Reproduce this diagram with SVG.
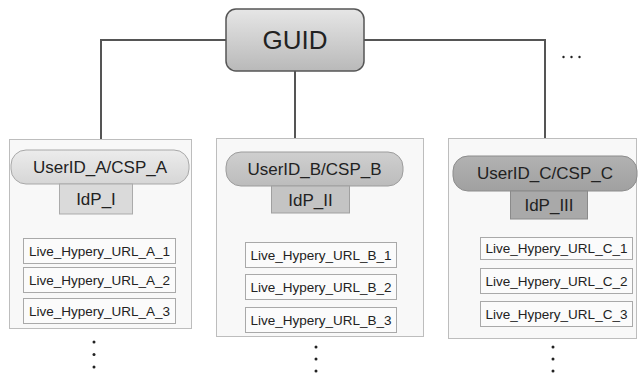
<svg xmlns="http://www.w3.org/2000/svg" width="638" height="373" viewBox="0 0 638 373">
<defs>
<linearGradient id="gGuid" x1="0" y1="0" x2="0" y2="1"><stop offset="0" stop-color="#e6e6e6"/><stop offset="1" stop-color="#b9b9b9"/></linearGradient>
<linearGradient id="gA" x1="0" y1="0" x2="0" y2="1"><stop offset="0" stop-color="#ececec"/><stop offset="1" stop-color="#d6d6d6"/></linearGradient>
<linearGradient id="gB" x1="0" y1="0" x2="0" y2="1"><stop offset="0" stop-color="#cfcfcf"/><stop offset="1" stop-color="#bcbcbc"/></linearGradient>
<linearGradient id="gC" x1="0" y1="0" x2="0" y2="1"><stop offset="0" stop-color="#b2b2b2"/><stop offset="1" stop-color="#a0a0a0"/></linearGradient>
</defs>
<style>
text{font-family:"Liberation Sans",Arial,sans-serif;fill:#222;text-anchor:middle;dominant-baseline:central}
.outer{fill:#f8f8f8;stroke:#bdbdbd;stroke-width:1}
.url{fill:#fbfbfb;stroke:#a9a9a9;stroke-width:1}
.urlt{font-size:13.5px}
.pt{font-size:17px}
.conn{fill:none;stroke:#555;stroke-width:2}
.dot{fill:#222}
</style>
<rect width="638" height="373" fill="#fff"/>
<g id="connectors">
<polyline class="conn" points="226,40 101,40 101,140"/>
<polyline class="conn" points="364,40 545,40 545,138"/>
<line class="conn" x1="295" y1="71" x2="295" y2="138"/>
</g>
<g id="guid">
<rect x="226" y="9" width="138" height="62" rx="10" fill="url(#gGuid)" stroke="#555" stroke-width="1.5"/>
<text x="295" y="40" style="font-size:26px">GUID</text>
</g>
<g id="ellipsis">
<circle class="dot" cx="563.5" cy="57" r="1.2"/><circle class="dot" cx="571.5" cy="57" r="1.2"/><circle class="dot" cx="579.5" cy="57" r="1.2"/>
</g>
<g id="groupA">
<rect class="outer" x="9.5" y="139.5" width="182" height="189"/>
<rect x="11" y="150" width="178" height="34" rx="15" fill="url(#gA)" stroke="#a8a8a8"/>
<text class="pt" x="100" y="167">UserID_A/CSP_A</text>
<rect x="59.5" y="184" width="73" height="30" fill="#dadada" stroke="#ababab"/>
<text class="pt" x="96" y="199">IdP_I</text>
<rect class="url" x="23.5" y="238.5" width="152" height="25"/>
<text class="urlt" x="99.5" y="251">Live_Hypery_URL_A_1</text>
<rect class="url" x="23.5" y="267.5" width="152" height="25"/>
<text class="urlt" x="99.5" y="280">Live_Hypery_URL_A_2</text>
<rect class="url" x="23.5" y="298.5" width="152" height="25"/>
<text class="urlt" x="99.5" y="311">Live_Hypery_URL_A_3</text>
<circle class="dot" cx="94" cy="342" r="1.5"/><circle class="dot" cx="94" cy="354.5" r="1.5"/><circle class="dot" cx="94" cy="367" r="1.5"/>
</g>
<g id="groupB">
<rect class="outer" x="216.5" y="138.5" width="207" height="198"/>
<rect x="226" y="152" width="177" height="34" rx="15" fill="url(#gB)" stroke="#9c9c9c"/>
<text class="pt" x="314.5" y="169">UserID_B/CSP_B</text>
<rect x="271.5" y="186" width="78" height="27" fill="#c4c4c4" stroke="#a0a0a0"/>
<text class="pt" x="310.5" y="200">IdP_II</text>
<rect class="url" x="245.5" y="242.5" width="151" height="25"/>
<text class="urlt" x="321" y="255">Live_Hypery_URL_B_1</text>
<rect class="url" x="245.5" y="274.5" width="151" height="25"/>
<text class="urlt" x="321" y="287">Live_Hypery_URL_B_2</text>
<rect class="url" x="245.5" y="307.5" width="151" height="25"/>
<text class="urlt" x="321" y="320">Live_Hypery_URL_B_3</text>
<circle class="dot" cx="316" cy="347" r="1.5"/><circle class="dot" cx="316" cy="359" r="1.5"/><circle class="dot" cx="316" cy="371" r="1.5"/>
</g>
<g id="groupC">
<rect class="outer" x="448.5" y="138.5" width="188" height="200"/>
<rect x="453" y="156" width="184" height="35" rx="15" fill="url(#gC)" stroke="#8c8c8c"/>
<text class="pt" x="545" y="173.5">UserID_C/CSP_C</text>
<rect x="510.5" y="191" width="77" height="28" fill="#a9a9a9" stroke="#8a8a8a"/>
<text class="pt" x="549" y="205">IdP_III</text>
<rect class="url" x="480.5" y="237.5" width="152" height="22"/>
<text class="urlt" x="556.5" y="248.5">Live_Hypery_URL_C_1</text>
<rect class="url" x="480.5" y="268.5" width="152" height="25"/>
<text class="urlt" x="556.5" y="281">Live_Hypery_URL_C_2</text>
<rect class="url" x="480.5" y="301.5" width="152" height="25"/>
<text class="urlt" x="556.5" y="314">Live_Hypery_URL_C_3</text>
<circle class="dot" cx="553" cy="347" r="1.5"/><circle class="dot" cx="553" cy="359" r="1.5"/><circle class="dot" cx="553" cy="371" r="1.5"/>
</g>
</svg>
